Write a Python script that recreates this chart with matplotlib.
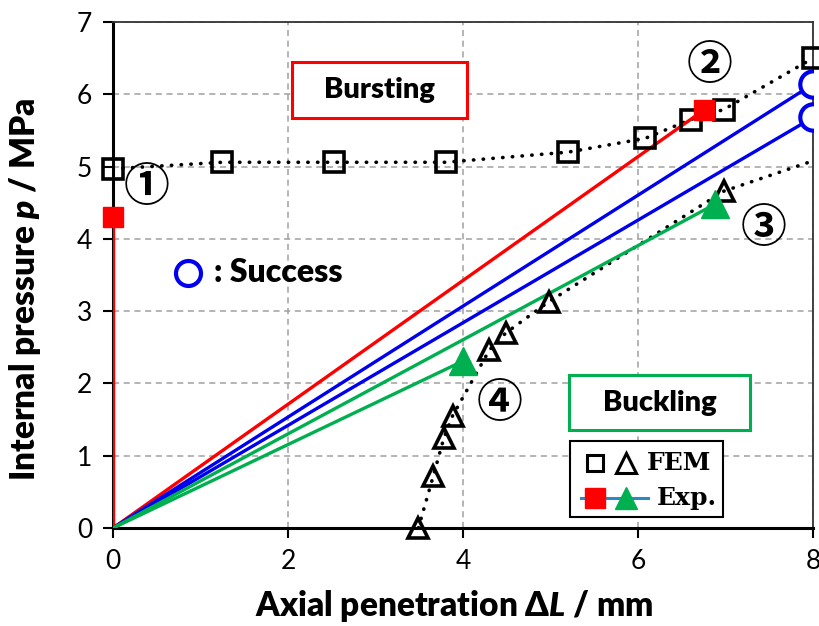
import matplotlib
matplotlib.use("Agg")
import matplotlib.pyplot as plt
from matplotlib.patches import Rectangle

# FEM results (dotted curves)
fem_burst_x = [0.0, 1.25, 2.52, 3.8, 5.2, 6.08, 6.6, 6.98, 8.0]
fem_burst_p = [4.97, 5.06, 5.06, 5.06, 5.2, 5.39, 5.65, 5.79, 6.5]
fem_buck_x = [3.49, 3.66, 3.78, 3.88, 4.3, 4.49, 4.98, 6.98]
fem_buck_p = [0.0, 0.72, 1.24, 1.55, 2.46, 2.7, 3.13, 4.66]
fem_buck_tail_x = [6.98, 8.0]
fem_buck_tail_p = [4.66, 5.08]

# experimental loading paths: end point of each path (start at origin)
burst_end = [(0.0, 4.3), (6.75, 5.78)]
success_end = [(8.0, 6.14), (8.0, 5.68)]
buckle_end = [(4.0, 2.31), (6.88, 4.48)]

labels_xy = {"①": (0.38, 4.7), "②": (6.82, 6.39), "③": (7.43, 4.13), "④": (4.42, 1.72)}

plt.rcParams["font.family"] = ["Lato", "DejaVu Sans"]
plt.rcParams["mathtext.fontset"] = "custom"
plt.rcParams["mathtext.it"] = "Lato:heavy:italic"
plt.rcParams["mathtext.rm"] = "Lato:heavy"

fig = plt.figure(figsize=(8.2, 6.26), dpi=100)
ax = fig.add_axes([0.1378, 0.1565, 0.8537, 0.8083])

ax.set_xlim(0, 8)
ax.set_ylim(0, 7)
ax.set_xticks([0, 2, 4, 6, 8])
ax.set_yticks(range(8))
ax.grid(True, color="#a0a0a0", linestyle=(0, (4, 3)), linewidth=1.1)
ax.set_axisbelow(True)
ax.tick_params(direction="out", length=7, width=1.5, labelsize=19, pad=8)
for s in ["left", "bottom"]:
    ax.spines[s].set_linewidth(2.2)
for s in ["top", "right"]:
    ax.spines[s].set_linewidth(1.3)
    ax.spines[s].set_color("#333333")

dot = dict(color="black", linestyle=(0, (0.1, 2.6)), linewidth=2.6,
           dash_capstyle="round", solid_capstyle="round")
ax.plot(fem_burst_x, fem_burst_p, **dot, zorder=2)
ax.plot(fem_buck_x, fem_buck_p, **dot, zorder=2)
ax.plot(fem_buck_tail_x, fem_buck_tail_p, **dot, zorder=2)

# experimental paths
for x, p in burst_end:
    ax.plot([0, x], [0, p], color="#ff0000", linewidth=2.4, zorder=3)
for x, p in success_end:
    ax.plot([0, x], [0, p], color="#0000ee", linewidth=2.4, zorder=3)
for x, p in buckle_end:
    ax.plot([0, x], [0, p], color="#00b050", linewidth=2.4, zorder=3)

ax.plot(fem_burst_x, fem_burst_p, linestyle="none", marker="s", markersize=14,
        markerfacecolor="none", markeredgecolor="black", markeredgewidth=2.6,
        clip_on=False, zorder=4)
ax.plot(fem_buck_x, fem_buck_p, linestyle="none", marker="^", markersize=15,
        markerfacecolor="none", markeredgecolor="black", markeredgewidth=2.6,
        clip_on=False, zorder=4)

ax.plot([p[0] for p in burst_end], [p[1] for p in burst_end], linestyle="none",
        marker="s", markersize=15, color="#ff0000", clip_on=False, zorder=5)
ax.plot([p[0] for p in success_end], [p[1] for p in success_end], linestyle="none",
        marker="o", markersize=19, markerfacecolor="white", markeredgecolor="#0000ee",
        markeredgewidth=3, zorder=5)
ax.plot([p[0] for p in buckle_end], [p[1] for p in buckle_end], linestyle="none",
        marker="^", markersize=20, color="#00b050", zorder=5)

for s, (x, y) in labels_xy.items():
    ax.text(x, y, s, fontsize=33, fontweight="bold", ha="center", va="center",
            family=["Noto Sans CJK JP", "DejaVu Sans"], zorder=6)

# region labels
ax.add_patch(Rectangle((2.05, 5.67), 2.0, 0.775, facecolor="white", edgecolor="#ff0000",
                       linewidth=2.2, zorder=6))
ax.text(3.05, 6.06, "Bursting", fontsize=21, fontweight="heavy", ha="center",
        va="center", zorder=7)
ax.add_patch(Rectangle((5.21, 1.355), 2.07, 0.76, facecolor="white", edgecolor="#00b050",
                       linewidth=2.2, zorder=6))
ax.text(6.245, 1.735, "Buckling", fontsize=21, fontweight="heavy", ha="center",
        va="center", zorder=7)
ax.plot([0.86], [3.53], marker="o", markersize=18, markerfacecolor="none",
        markeredgecolor="#0000ee", markeredgewidth=3, clip_on=False)
ax.text(1.15, 3.53, ": Success", fontsize=23, fontweight="heavy", ha="left", va="center")

# hand-drawn legend box
leg = ax.transAxes
ax.add_patch(Rectangle((0.653, 0.022), 0.218, 0.15, transform=leg, facecolor="white",
                       edgecolor="black", linewidth=1.5, zorder=7))
ax.plot([0.689], [0.128], transform=leg, marker="s", markersize=12, markerfacecolor="none",
        markeredgecolor="black", markeredgewidth=2.2, zorder=8)
ax.plot([0.733], [0.128], transform=leg, marker="^", markersize=14, markerfacecolor="none",
        markeredgecolor="black", markeredgewidth=2.2, zorder=8)
ax.plot([0.668, 0.764], [0.059, 0.059], transform=leg, color="#2a8ac8", linewidth=2.2, zorder=8)
ax.plot([0.689], [0.059], transform=leg, marker="s", markersize=14, color="#ff0000", zorder=9)
ax.plot([0.733], [0.059], transform=leg, marker="^", markersize=16, color="#00b050", zorder=9)
ax.text(0.763, 0.128, "FEM", transform=leg, fontsize=18, fontweight="bold",
        family=["DejaVu Serif"], va="center", zorder=9)
ax.text(0.777, 0.059, "Exp.", transform=leg, fontsize=18, fontweight="bold",
        family=["DejaVu Serif"], va="center", zorder=9)

ax.set_xlabel(r"Axial penetration $\mathit{\Delta L}$ / mm", fontsize=24,
              fontweight="heavy")
ax.set_ylabel(r"Internal pressure $p$ / MPa", fontsize=24, fontweight="heavy")
ax.xaxis.set_label_coords(0.487, -0.118)
ax.yaxis.set_label_coords(-0.1, 0.472)

fig.savefig("out.png", dpi=100)
